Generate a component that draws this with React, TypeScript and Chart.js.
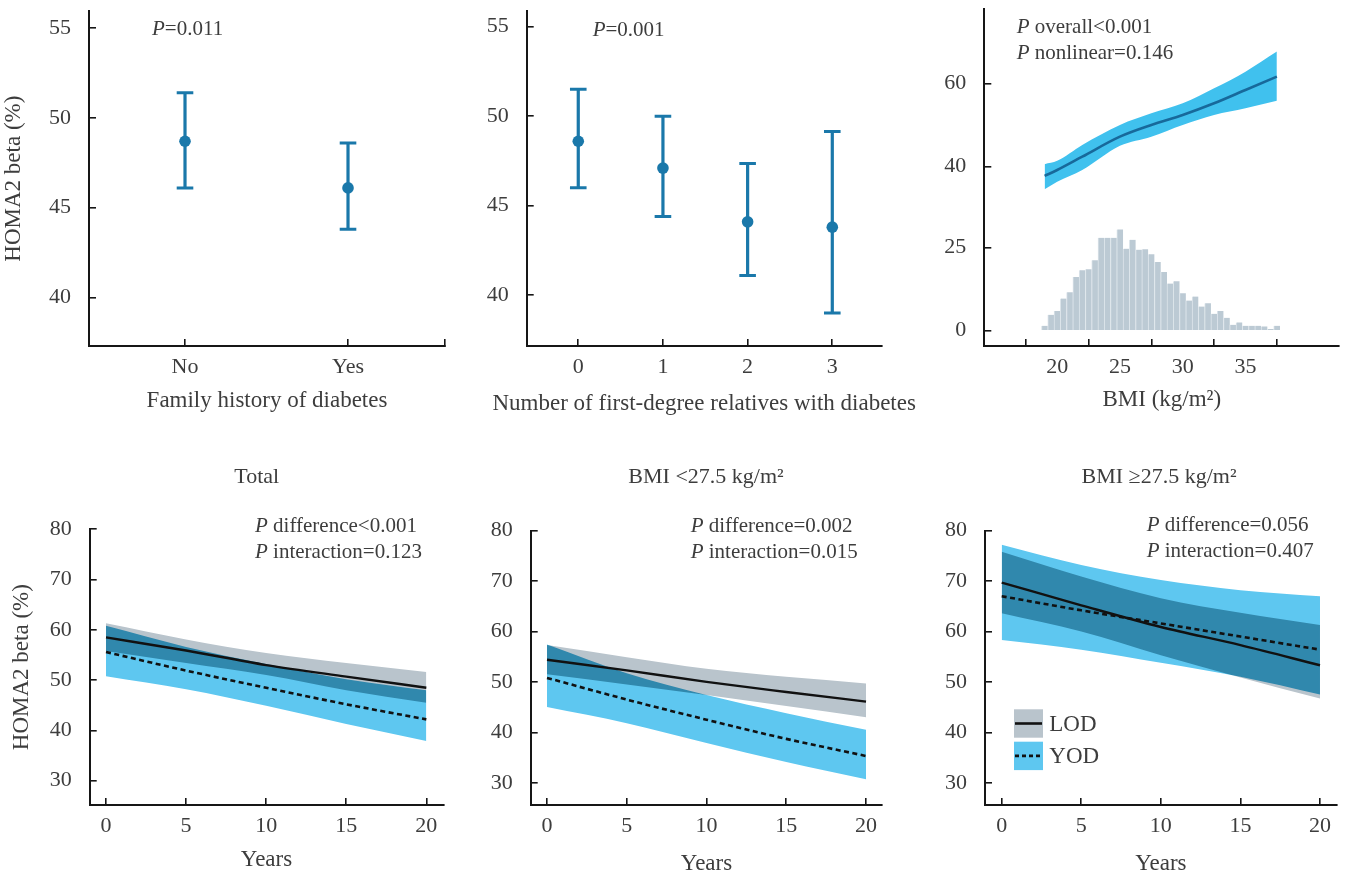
import React, { useEffect, useRef } from 'react';
import { Chart, registerables } from 'chart.js';

// Per-dataset compositing (registered before the filler so it wraps the band fills)
const blendPlugin: any = {
  id: 'datasetBlend',
  beforeDatasetDraw(chart: any, args: any) {
    const mode = chart.data.datasets[args.index] && chart.data.datasets[args.index].blend;
    if (!mode) return;
    chart.ctx.save();
    chart.ctx.globalCompositeOperation = mode;
  },
  afterDatasetDraw(chart: any, args: any) {
    const mode = chart.data.datasets[args.index] && chart.data.datasets[args.index].blend;
    if (!mode) return;
    chart.ctx.restore();
  },
};
Chart.register(blendPlugin);
Chart.register(...registerables);

const FONT = "'Liberation Serif', 'Times New Roman', Times, serif";
const TEXT = '#3d3d3d';
const AXIS = '#161616';
const EB_BLUE = '#1a78aa';
const CURVE_FILL = '#40c1ee';
const CURVE_LINE = '#17699b';
const HIST_FILL = '#bccad4';
const HIST_EDGE = '#dde5eb';
const BAND_GRAY = '#b9c4cc';
const BAND_BLUE = '#5ec7f0';
const BAND_OVERLAP = '#3088ad';
const LINE_BLACK = '#111111';

// ---------- Panel A: family history of diabetes ----------
const famCategories = ['No', 'Yes'];
const famMean = [48.7, 46.1];
const famLower = [46.1, 43.8];
const famUpper = [51.4, 48.6];

// ---------- Panel B: number of first-degree relatives ----------
const relCategories = ['0', '1', '2', '3'];
const relMean = [48.6, 47.1, 44.1, 43.8];
const relLower = [46.0, 44.4, 41.1, 39.0];
const relUpper = [51.5, 50.0, 47.35, 49.15];

const topYTicks = [40, 45, 50, 55];

// ---------- Panel C: BMI spline + histogram ----------
const bmiX = [19, 20, 22, 25, 27.5, 30, 32.5, 35, 37.5];
const bmiFit = [37.8, 39.2, 42.4, 47.2, 50.0, 52.4, 55.2, 58.4, 61.6];
const bmiUpper = [40.6, 41.4, 45.2, 50.0, 52.8, 55.2, 58.8, 62.8, 67.6];
const bmiLower = [34.6, 36.4, 39.2, 45.0, 47.2, 50.0, 52.4, 54.0, 55.8];
const histBins = [19, 19.5, 20, 20.5, 21, 21.5, 22, 22.5, 23, 23.5, 24, 24.5, 25, 25.5, 26, 26.5, 27, 27.5, 28, 28.5,
  29, 29.5, 30, 30.5, 31, 31.5, 32, 32.5, 33, 33.5, 34, 34.5, 35, 35.5, 36, 36.5, 37, 37.5];
const histCounts = [1.5, 4.8, 5.9, 9.7, 11.6, 16.2, 18.2, 18.5, 21.2, 28.0, 28.0, 28.0, 30.5, 24.7, 27.4, 24.4, 24.5, 23.0,
  20.7, 17.7, 14.2, 14.9, 11.3, 9.1, 10.3, 7.3, 8.3, 5.1, 5.9, 3.9, 1.8, 2.5, 1.5, 1.5, 1.5, 1.3, 0.5, 1.5];
const bmiTicks = [20, 25, 30, 35];
const fitTicks = [40, 60];
const histTicks = [0, 25];

// ---------- Panels D-F: trajectories ----------
const years = [0, 5, 10, 15, 20];
const yearTicks = [0, 5, 10, 15, 20];
const trajYTicks = [30, 40, 50, 60, 70, 80];
const legendLabels = ['LOD', 'YOD'];

const totLOD = [58.5, 55.9, 53.0, 50.7, 48.5];
const totLODUp = [61.3, 58.1, 55.4, 53.4, 51.6];
const totLODLo = [55.8, 53.4, 51.0, 48.0, 45.5];
const totYOD = [55.6, 51.9, 48.5, 45.2, 42.2];
const totYODUp = [60.8, 56.6, 53.2, 50.2, 48.0];
const totYODLo = [50.8, 48.2, 44.9, 41.3, 37.9];

const lowLOD = [54.4, 52.3, 50.0, 48.0, 46.1];
const lowLODUp = [57.3, 54.9, 52.6, 51.0, 49.7];
const lowLODLo = [51.5, 49.5, 47.4, 45.2, 43.0];
const lowYOD = [50.8, 46.5, 42.5, 38.7, 35.3];
const lowYODUp = [57.4, 51.7, 47.4, 43.8, 40.5];
const lowYODLo = [45.0, 41.8, 37.9, 34.1, 30.7];

const highLOD = [69.7, 65.2, 60.9, 57.3, 53.3];
const highLODUp = [75.8, 70.9, 66.6, 63.7, 61.3];
const highLODLo = [63.6, 60.0, 55.3, 50.9, 46.7];
const highYOD = [67.0, 64.2, 61.6, 59.0, 56.4];
const highYODUp = [77.2, 73.2, 70.2, 68.2, 67.0];
const highYODLo = [58.3, 56.4, 53.8, 51.0, 47.5];

// ---------- layout helpers ----------
type Geo = { cl: number; ct: number; cw: number; ch: number; al: number; at: number; ar: number; ab: number };
const yW = (g: Geo) => g.al - g.cl;
const xH = (g: Geo) => g.ct + g.ch - g.ab;

function baseOptions(g: Geo, scales: any): any {
  return {
    responsive: false,
    animation: false,
    devicePixelRatio: 1,
    events: [],
    layout: { padding: { left: 0, top: g.at - g.ct, right: g.cl + g.cw - g.ar, bottom: 0 } },
    plugins: { legend: { display: false }, tooltip: { enabled: false }, title: { display: false } },
    scales,
  };
}

function axis(o: any): any {
  const isY = o.pos === 'left';
  return {
    type: 'linear',
    position: o.pos,
    min: o.min,
    max: o.max,
    bounds: 'data',
    weight: o.weight ?? 0,
    afterBuildTicks: (s: any) => {
      s.ticks = o.ticks.map((v: number) => ({ value: v }));
    },
    afterFit: (s: any) => {
      if (isY) s.width = o.size;
      else s.height = o.size;
      s.paddingLeft = 0;
      s.paddingRight = 0;
      s.paddingTop = 0;
      s.paddingBottom = 0;
    },
    ticks: {
      autoSkip: false,
      maxRotation: 0,
      minRotation: 0,
      padding: isY ? 25 : 15.5,
      color: TEXT,
      font: { family: FONT, size: 22 },
      callback: (_v: any, i: number) => (o.labels ? o.labels[i] : String(o.ticks[i])),
    },
    grid: { display: true, drawOnChartArea: false, drawTicks: true, tickLength: -7, color: AXIS, lineWidth: 1.6 },
    border: { display: true, color: AXIS, width: 2 },
    title: o.title
      ? {
          display: true,
          text: o.title,
          color: TEXT,
          font: { family: FONT, size: 23 },
          padding: isY ? { top: o.titlePad, bottom: 0 } : { top: 0, bottom: o.titlePad },
        }
      : { display: false },
  };
}

type Run = { t: string; i?: boolean };
type TextItem = { runs: Run[]; dx: number; dy: number; size: number; align?: 'left' | 'center' };

function textPlugin(items: TextItem[]): any {
  return {
    id: 'panelText',
    afterDraw(chart: any) {
      const { ctx, chartArea } = chart;
      ctx.save();
      ctx.fillStyle = TEXT;
      ctx.textBaseline = 'alphabetic';
      ctx.textAlign = 'left';
      for (const it of items) {
        const fonts = it.runs.map((r) => `${r.i ? 'italic ' : ''}${it.size}px ${FONT}`);
        let total = 0;
        const widths = it.runs.map((r, k) => {
          ctx.font = fonts[k];
          const w = ctx.measureText(r.t).width;
          total += w;
          return w;
        });
        let x = chartArea.left + it.dx - (it.align === 'center' ? total / 2 : 0);
        const y = chartArea.top + it.dy;
        it.runs.forEach((r, k) => {
          ctx.font = fonts[k];
          ctx.fillText(r.t, x, y);
          x += widths[k];
        });
      }
      ctx.restore();
    },
  };
}

// The histogram axis shares the slot of the fit axis (both sit on the left spine)
const sharedSlotPlugin: any = {
  id: 'sharedSlot',
  afterLayout(chart: any) {
    const a = chart.scales.y;
    const b = chart.scales.yh;
    if (!a || !b) return;
    b.left = a.left;
    b.right = a.right;
    b.width = a.width;
  },
};

function legendPlugin(dx: number, dy: number): any {
  return {
    id: 'bandLegend',
    afterDraw(chart: any) {
      const { ctx, chartArea } = chart;
      const ds = chart.data.datasets;
      const items = [
        { label: legendLabels[0], fill: ds[2].backgroundColor, dash: ds[0].borderDash || [] },
        { label: legendLabels[1], fill: ds[6].backgroundColor, dash: [4, 3] },
      ];
      const x0 = chartArea.left + dx;
      const y0 = chartArea.top + dy;
      const bw = 29;
      const bh = 28.4;
      const gap = 4;
      ctx.save();
      items.forEach((it, k) => {
        const y = y0 + k * (bh + gap);
        ctx.fillStyle = it.fill;
        ctx.fillRect(x0, y, bw, bh);
        ctx.strokeStyle = LINE_BLACK;
        ctx.lineWidth = 2.6;
        ctx.setLineDash(it.dash);
        ctx.beginPath();
        ctx.moveTo(x0 + 1, y + bh / 2);
        ctx.lineTo(x0 + bw - 1, y + bh / 2);
        ctx.stroke();
        ctx.setLineDash([]);
        ctx.fillStyle = TEXT;
        ctx.font = `23px ${FONT}`;
        ctx.textBaseline = 'middle';
        ctx.textAlign = 'left';
        ctx.fillText(it.label, x0 + 35.3, y + bh / 2 + 1);
      });
      ctx.restore();
    },
  };
}

function errorBarDatasets(mean: number[], lower: number[], upper: number[]): any[] {
  const whiskers = mean.map((_, i) => ({
    type: 'line',
    data: [
      { x: i, y: lower[i] },
      { x: i, y: upper[i] },
    ],
    borderColor: EB_BLUE,
    borderWidth: 3.2,
    pointRadius: 0,
    fill: false,
    showLine: true,
  }));
  const caps = {
    type: 'scatter',
    data: mean.flatMap((_, i) => [
      { x: i, y: lower[i] },
      { x: i, y: upper[i] },
    ]),
    pointStyle: 'line',
    pointRadius: 8.3,
    borderColor: EB_BLUE,
    pointBorderWidth: 3,
    borderWidth: 3,
  };
  const dots = {
    type: 'scatter',
    data: mean.map((m, i) => ({ x: i, y: m })),
    pointStyle: 'circle',
    pointRadius: 5.8,
    backgroundColor: EB_BLUE,
    borderColor: EB_BLUE,
    pointBorderWidth: 0,
    borderWidth: 0,
  };
  return [dots, caps, ...whiskers];
}

function trajDatasets(lod: number[], lodU: number[], lodL: number[], yod: number[], yodU: number[], yodL: number[]): any[] {
  const pts = (arr: number[]) => arr.map((v, i) => ({ x: years[i], y: v }));
  const c = { pointRadius: 0, cubicInterpolationMode: 'monotone' };
  const edge = { borderWidth: 0, borderColor: 'transparent' };
  return [
    { ...c, data: pts(lod), borderColor: LINE_BLACK, borderWidth: 2.4, fill: false },
    { ...c, data: pts(yod), borderColor: LINE_BLACK, borderWidth: 2.6, borderDash: [5, 3.5], fill: false },
    // LOD band where it is alone (painted behind what is already there)
    { ...c, ...edge, data: pts(lodU), backgroundColor: BAND_GRAY, fill: '+1', blend: 'destination-over' },
    { ...c, ...edge, data: pts(lodL), fill: false },
    // LOD band where it overlaps the YOD band
    { ...c, ...edge, data: pts(lodU), backgroundColor: BAND_OVERLAP, fill: '+1', blend: 'source-atop' },
    { ...c, ...edge, data: pts(lodL), fill: false },
    // YOD band
    { ...c, ...edge, data: pts(yodU), backgroundColor: BAND_BLUE, fill: '+1' },
    { ...c, ...edge, data: pts(yodL), fill: false },
  ];
}

const P = (rest: string): Run[] => [{ t: 'P', i: true }, { t: rest }];

// ---------- panel geometry (canvas rect + plot area, page px) ----------
const g1: Geo = { cl: 0, ct: 0, cw: 460, ch: 420, al: 89, at: 9, ar: 445, ab: 346 };
const g2: Geo = { cl: 440, ct: 0, cw: 500, ch: 420, al: 526.7, at: 8.5, ar: 882, ab: 346 };
const g3: Geo = { cl: 940, ct: 0, cw: 407, ch: 420, al: 984.3, at: 8.5, ar: 1339.3, ab: 346 };
const g4: Geo = { cl: 0, ct: 440, cw: 460, ch: 440, al: 89.7, at: 529.3, ar: 443.3, ab: 805 };
const g5: Geo = { cl: 460, ct: 440, cw: 470, ch: 440, al: 530.7, at: 530.7, ar: 882.3, ab: 805 };
const g6: Geo = { cl: 930, ct: 440, cw: 417, ch: 440, al: 985, at: 530.7, ar: 1336.7, ab: 805 };

const X1_MAX = 1.595;

function makeP1(): any {
  return {
    type: 'scatter',
    data: { datasets: errorBarDatasets(famMean, famLower, famUpper) },
    options: baseOptions(g1, {
      x: axis({
        pos: 'bottom', min: -0.589, max: X1_MAX,
        ticks: [...famCategories.map((_, i) => i), X1_MAX], labels: [...famCategories, ''],
        size: xH(g1), title: 'Family history of diabetes', titlePad: 5.2,
      }),
      y: axis({ pos: 'left', min: 37.29, max: 55.94, ticks: topYTicks, size: yW(g1), title: 'HOMA2 beta (%)', titlePad: 0 }),
    }),
    plugins: [textPlugin([{ runs: P('=0.011'), dx: 63, dy: 24, size: 21 }])],
  };
}

function makeP2(): any {
  return {
    type: 'scatter',
    data: { datasets: errorBarDatasets(relMean, relLower, relUpper) },
    options: baseOptions(g2, {
      x: axis({
        pos: 'bottom', min: -0.609, max: 3.587,
        ticks: relCategories.map((_, i) => i), labels: relCategories, size: xH(g2),
      }),
      y: axis({ pos: 'left', min: 37.16, max: 55.86, ticks: topYTicks, size: yW(g2) }),
    }),
    plugins: [
      textPlugin([
        { runs: P('=0.001'), dx: 66, dy: 24.8, size: 21 },
        { runs: [{ t: 'Number of first-degree relatives with diabetes' }], dx: 177.5, dy: 398.8, size: 23, align: 'center' },
      ]),
    ],
  };
}

function makeP3(): any {
  const pts = (arr: number[]) => arr.map((v, i) => ({ x: bmiX[i], y: v }));
  const c = { pointRadius: 0, cubicInterpolationMode: 'monotone', yAxisID: 'y' };
  return {
    type: 'line',
    data: {
      datasets: [
        {
          type: 'bar', yAxisID: 'yh', order: 5,
          data: histBins.map((b, i) => ({ x: b, y: histCounts[i] })),
          backgroundColor: HIST_FILL, borderColor: HIST_EDGE,
          borderWidth: { left: 1, right: 0, top: 0, bottom: 0 }, borderSkipped: false,
          barPercentage: 1, categoryPercentage: 1,
        },
        { ...c, data: pts(bmiUpper), borderWidth: 0, borderColor: 'transparent', backgroundColor: CURVE_FILL, fill: '+1', order: 2 },
        { ...c, data: pts(bmiLower), borderWidth: 0, borderColor: 'transparent', fill: false, order: 2 },
        { ...c, data: pts(bmiFit), borderColor: CURVE_LINE, borderWidth: 2.6, fill: false, order: 1 },
      ],
    },
    options: baseOptions(g3, {
      x: axis({ pos: 'bottom', min: 17.73, max: 38.94, ticks: bmiTicks, size: xH(g3), title: 'BMI (kg/m\u00B2)', titlePad: 5.9 }),
      y: axis({ pos: 'left', min: -3.0, max: 77.94, ticks: fitTicks, size: yW(g3), weight: 1 }),
      yh: axis({ pos: 'left', min: -4.61, max: 97.05, ticks: histTicks, size: 0, weight: 0 }),
    }),
    plugins: [
      sharedSlotPlugin,
      textPlugin([
        { runs: P(' overall<0.001'), dx: 32.4, dy: 24.2, size: 21 },
        { runs: P(' nonlinear=0.146'), dx: 32.4, dy: 50.8, size: 21 },
      ]),
    ],
  };
}

function makeTraj(g: Geo, xr: number[], yr: number[], sets: number[][], texts: TextItem[], opts: any): any {
  const plugins = [textPlugin(texts)];
  if (opts.legend) plugins.push(legendPlugin(29, 178.6));
  return {
    type: 'line',
    data: { datasets: trajDatasets(sets[0], sets[1], sets[2], sets[3], sets[4], sets[5]) },
    options: baseOptions(g, {
      x: axis({ pos: 'bottom', min: xr[0], max: xr[1], ticks: yearTicks, size: xH(g), title: 'Years', titlePad: opts.xPad }),
      y: axis({ pos: 'left', min: yr[0], max: yr[1], ticks: trajYTicks, size: yW(g), title: opts.yTitle, titlePad: opts.yPad }),
    }),
    plugins,
  };
}

function makeP4(): any {
  return makeTraj(g4, [-1.018, 21.06], [25.17, 80], [totLOD, totLODUp, totLODLo, totYOD, totYODUp, totYODLo], [
    { runs: [{ t: 'Total' }], dx: 167, dy: -46.3, size: 22, align: 'center' },
    { runs: P(' difference<0.001'), dx: 165.3, dy: 2.4, size: 21 },
    { runs: P(' interaction=0.123'), dx: 165.3, dy: 29, size: 21 },
  ], { xPad: 6.5, yTitle: 'HOMA2 beta (%)', yPad: 7.7 });
}

function makeP5(): any {
  return makeTraj(g5, [-1.022, 21.02], [25.58, 80], [lowLOD, lowLODUp, lowLODLo, lowYOD, lowYODUp, lowYODLo], [
    { runs: [{ t: 'BMI <27.5 kg/m\u00B2' }], dx: 175.3, dy: -47.7, size: 22, align: 'center' },
    { runs: P(' difference=0.002'), dx: 160, dy: 1, size: 21 },
    { runs: P(' interaction=0.015'), dx: 160, dy: 27.6, size: 21 },
  ], { xPad: 2.2 });
}

function makeP6(): any {
  return makeTraj(g6, [-1.049, 21.05], [25.58, 80], [highLOD, highLODUp, highLODLo, highYOD, highYODUp, highYODLo], [
    { runs: [{ t: 'BMI \u226527.5 kg/m\u00B2' }], dx: 174, dy: -47.7, size: 22, align: 'center' },
    { runs: P(' difference=0.056'), dx: 161.7, dy: 0, size: 21 },
    { runs: P(' interaction=0.407'), dx: 161.7, dy: 26, size: 21 },
  ], { xPad: 2.2, legend: true });
}

function ChartCanvas({ geo, make }: { geo: Geo; make: () => any }) {
  const ref = useRef<HTMLCanvasElement | null>(null);
  useEffect(() => {
    if (!ref.current) return;
    const chart = new Chart(ref.current, make());
    return () => chart.destroy();
  }, []);
  return (
    <canvas
      ref={ref}
      width={geo.cw}
      height={geo.ch}
      style={{ position: 'absolute', left: geo.cl, top: geo.ct, width: geo.cw, height: geo.ch }}
    />
  );
}

export default function App() {
  return (
    <div style={{ position: 'absolute', left: 0, top: 0, width: 1347, height: 880, background: '#ffffff', overflow: 'hidden' }}>
      <ChartCanvas geo={g1} make={makeP1} />
      <ChartCanvas geo={g2} make={makeP2} />
      <ChartCanvas geo={g3} make={makeP3} />
      <ChartCanvas geo={g4} make={makeP4} />
      <ChartCanvas geo={g5} make={makeP5} />
      <ChartCanvas geo={g6} make={makeP6} />
    </div>
  );
}
